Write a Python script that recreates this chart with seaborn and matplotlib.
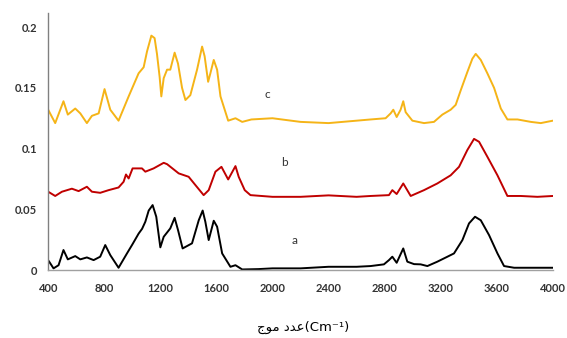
import matplotlib
matplotlib.use("Agg")
import matplotlib.pyplot as plt
import seaborn as sns

# FTIR spectra
# curve a (black)
wn_a = [400, 407, 438, 474, 509, 540, 593, 629, 676, 724, 771, 807, 843, 902, 962,
        1000, 1045, 1070, 1093, 1117, 1145, 1171, 1200, 1224, 1271, 1302, 1326, 1359,
        1426, 1474, 1502, 1521, 1545, 1581, 1605, 1641, 1700, 1736, 1784, 1900, 2000,
        2200, 2400, 2600, 2700, 2795, 2831, 2855, 2886, 2933, 2962, 3010, 3057, 3105,
        3176, 3248, 3295, 3355, 3402, 3445, 3486, 3545, 3605, 3652, 3724, 3850, 4000]
abs_a = [0.008, 0.0069, 0.0014, 0.004, 0.0165, 0.0088, 0.0115, 0.0088, 0.0104, 0.0082,
         0.011, 0.0206, 0.0123, 0.0019, 0.0137, 0.021, 0.030, 0.034, 0.0398, 0.049,
         0.0535, 0.0439, 0.0187, 0.0274, 0.0343, 0.043, 0.033, 0.0178, 0.022, 0.041,
         0.049, 0.0398, 0.0247, 0.0406, 0.0357, 0.0137, 0.0027, 0.004, 0.0005, 0.0008,
         0.0014, 0.0014, 0.0027, 0.0027, 0.0033, 0.0047, 0.0082, 0.011, 0.006, 0.0178,
         0.0069, 0.0049, 0.0047, 0.0033, 0.0069, 0.011, 0.0137, 0.0247, 0.0384, 0.0439,
         0.041, 0.0288, 0.0137, 0.0033, 0.0019, 0.0019, 0.0019]

# curve b (red)
wn_b = [400, 450, 498, 569, 617, 676, 712, 771, 831, 902, 938, 955, 974, 1002, 1069,
        1093, 1152, 1224, 1248, 1331, 1402, 1450, 1509, 1545, 1593, 1636, 1684, 1736,
        1759, 1802, 1843, 2000, 2200, 2400, 2600, 2700, 2831, 2855, 2886, 2933, 2986,
        3081, 3176, 3271, 3331, 3390, 3438, 3474, 3533, 3605, 3676, 3771, 3890, 4000]
abs_b = [0.0645, 0.061, 0.0645, 0.067, 0.065, 0.0686, 0.0645, 0.0636, 0.0658, 0.068,
         0.0727, 0.0787, 0.0754, 0.0837, 0.0837, 0.081, 0.0837, 0.0883, 0.0872, 0.0796,
         0.0768, 0.070, 0.0617, 0.0658, 0.081, 0.085, 0.0746, 0.0856, 0.0768, 0.0658,
         0.0617, 0.0603, 0.0603, 0.0615, 0.0603, 0.061, 0.0617, 0.0658, 0.0626, 0.0713,
         0.061, 0.0658, 0.0713, 0.078, 0.085, 0.0988, 0.108, 0.1056, 0.0933, 0.078,
         0.061, 0.061, 0.0603, 0.061]

# curve c (yellow)
wn_c = [400, 450, 509, 540, 593, 629, 676, 712, 760, 802, 843, 902, 974, 1045, 1081,
        1105, 1136, 1159, 1176, 1195, 1207, 1224, 1248, 1271, 1302, 1326, 1355, 1379,
        1414, 1462, 1498, 1516, 1541, 1557, 1581, 1605, 1629, 1684, 1736, 1784, 1850,
        2000, 2200, 2400, 2600, 2700, 2807, 2843, 2862, 2886, 2914, 2933, 2950, 2998,
        3081, 3152, 3212, 3271, 3307, 3343, 3390, 3426, 3450, 3486, 3533, 3581, 3629,
        3676, 3748, 3843, 3914, 4000]
abs_c = [0.132, 0.121, 0.139, 0.128, 0.133, 0.129, 0.121, 0.127, 0.129, 0.149, 0.132,
         0.123, 0.143, 0.162, 0.167, 0.180, 0.193, 0.191, 0.178, 0.159, 0.143, 0.158,
         0.165, 0.165, 0.179, 0.170, 0.150, 0.140, 0.144, 0.165, 0.184, 0.176, 0.155,
         0.162, 0.173, 0.165, 0.143, 0.123, 0.125, 0.122, 0.124, 0.125, 0.122, 0.121,
         0.123, 0.124, 0.125, 0.129, 0.132, 0.126, 0.132, 0.139, 0.130, 0.123, 0.121,
         0.122, 0.128, 0.132, 0.136, 0.148, 0.163, 0.174, 0.178, 0.173, 0.162, 0.150,
         0.133, 0.124, 0.124, 0.122, 0.121, 0.123]

x_ticks = [400, 800, 1200, 1600, 2000, 2400, 2800, 3200, 3600, 4000]
y_ticks = [0, 0.05, 0.1, 0.15, 0.2]
y_tick_labels = ["0", "0.05", "0.1", "0.15", "0.2"]

sns.set_style("white")
plt.rcParams['font.family'] = ['Lato', 'DejaVu Sans']

fig = plt.figure(figsize=(5.67, 3.38), dpi=100)
ax = fig.add_axes([0.085, 0.201, 0.89, 0.76])

sns.lineplot(x=wn_a, y=abs_a, color="black", linewidth=1.4, ax=ax, sort=False)
sns.lineplot(x=wn_b, y=abs_b, color="#C00000", linewidth=1.4, ax=ax, sort=False)
sns.lineplot(x=wn_c, y=abs_c, color="#F5B417", linewidth=1.4, ax=ax, sort=False)

ax.set_xlim(400, 4000)
ax.set_ylim(0, 0.2115)
ax.set_xticks(x_ticks)
ax.set_xticklabels([str(t) for t in x_ticks], fontsize=8, fontweight="bold", color="#333333")
ax.set_yticks(y_ticks)
ax.set_yticklabels(y_tick_labels, fontsize=8, fontweight="bold", color="#333333")
ax.tick_params(axis="x", length=0, pad=9)
ax.tick_params(axis="y", length=0, pad=8)

for side in ["top", "right"]:
    ax.spines[side].set_visible(False)
ax.spines["left"].set_color("#808080")
ax.spines["bottom"].set_color("#a0a0a0")
ax.spines["left"].set_linewidth(1.0)
ax.spines["bottom"].set_linewidth(1.0)

# curve labels
ax.text(1962, 0.1446, "c", fontsize=8.5, color="#333333", ha="center", va="center")
ax.text(2086, 0.0883, "b", fontsize=8.5, color="#333333", ha="center", va="center")
ax.text(2157, 0.0247, "a", fontsize=8.5, color="#333333", ha="center", va="center")

# Arabic axis title, pre-shaped glyphs in visual order (matplotlib does no bidi/shaping)
label = "\uFE9D\uFEEE\uFEE3 \uFEA9\uFEAA\uFECB(Cm\u207B\u00B9)"
fig.text(0.535, 0.032, label, fontsize=9.5, color="black", ha="center", va="center",
         family=['DejaVu Sans'])

fig.savefig("out.png", dpi=100)
